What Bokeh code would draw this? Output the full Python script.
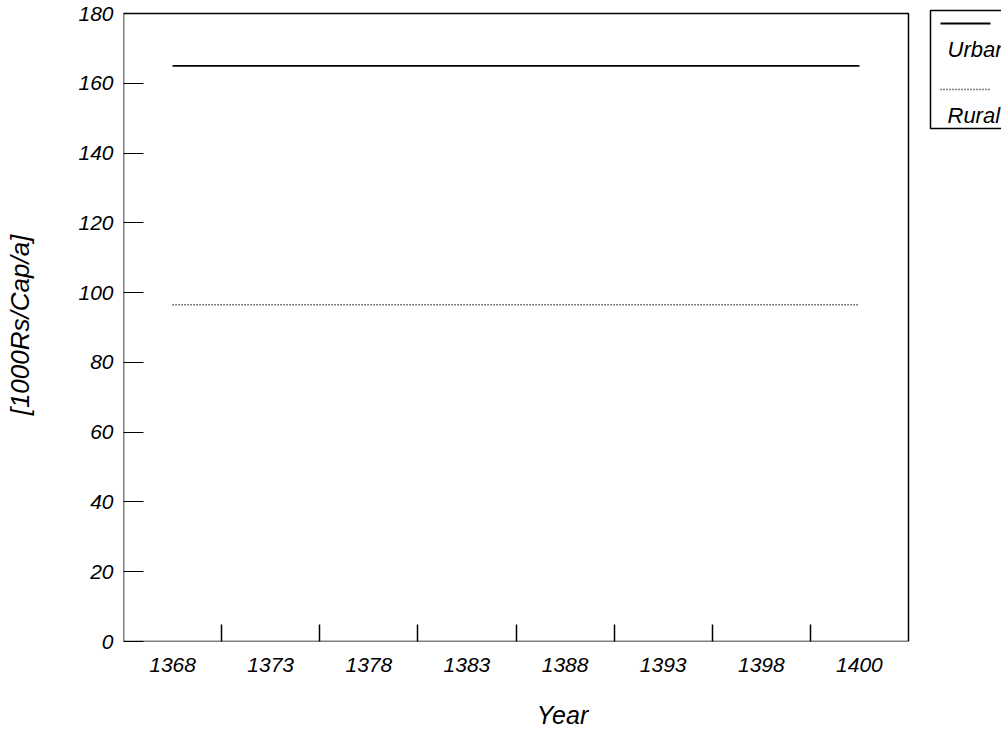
from bokeh.plotting import figure
from bokeh.models import Range1d, FixedTicker
from bokeh.core.properties import value
from bokeh.embed import file_html
from bokeh.resources import INLINE

# ---- data ----
years = ["1368", "1373", "1378", "1383", "1388", "1393", "1398", "1400"]
urban = [165, 165, 165, 165, 165, 165, 165, 165]
rural = [96.5, 96.5, 96.5, 96.5, 96.5, 96.5, 96.5, 96.5]
series_names = ["Urban", "Rural"]
series_dash = ["solid", "1 2"]
series_width = [1.8, 1.5]
y_ticks = [0, 20, 40, 60, 80, 100, 120, 140, 160, 180]
y_title = "[1000Rs/Cap/a]"
x_title = "Year"

FONT = "'Liberation Sans Narrow', 'Liberation Sans', Arial, sans-serif"

# ---- layout (page pixels; the bokeh page has no body margin) ----
W, H = 1001, 743
BOX_L, BOX_R, BOX_T, BOX_B = 123, 908, 13, 641      # visible plot box
FRAME_T = 8                                          # frame extended up/right for the legend

n = len(years)
centers = [i + 0.5 for i in range(n)]
bounds = [i for i in range(1, n)]
y0, y1 = y_ticks[0], y_ticks[-1]

def dx(px):
    return (px - BOX_L) / (BOX_R - BOX_L) * n

def dy(py):
    return y0 + (BOX_B - py) / (BOX_B - BOX_T) * (y1 - y0)

p = figure(width=W, height=H,
           x_range=Range1d(0, dx(W)), y_range=Range1d(y0, dy(FRAME_T)),
           output_backend="svg", toolbar_location=None,
           min_border_left=BOX_L, min_border_right=0,
           min_border_top=FRAME_T, min_border_bottom=H - BOX_B)
p.grid.visible = False
p.outline_line_color = None

# plot box
p.quad(left=[0], right=[n], bottom=[y0], top=[y1],
       fill_color=None, line_color="black", line_width=1.5)

renderers = []
for vals, dash, lw in zip([urban, rural], series_dash, series_width):
    renderers.append(p.line(centers, vals, line_color="black",
                            line_width=lw, line_dash=dash))

xa = p.xaxis[0]
xa.ticker = FixedTicker(ticks=centers, minor_ticks=bounds)
xa.major_label_overrides = {c: y for c, y in zip(centers, years)}
xa.major_tick_in = 0
xa.major_tick_out = 0
xa.minor_tick_in = 17
xa.minor_tick_out = 0
xa.minor_tick_line_color = "black"
xa.minor_tick_line_width = 1.5
xa.axis_line_color = None
xa.major_label_text_font = FONT
xa.major_label_text_font_style = "italic"
xa.major_label_text_font_size = "21px"
xa.major_label_text_color = "black"
xa.major_label_standoff = 16
xa.axis_label = x_title
xa.axis_label_text_font = FONT
xa.axis_label_text_font_style = "italic"
xa.axis_label_text_font_size = "25px"
xa.axis_label_text_color = "black"
xa.axis_label_standoff = 26

ya = p.yaxis[0]
ya.ticker = FixedTicker(ticks=y_ticks)
ya.major_tick_in = 20
ya.major_tick_out = 0
ya.major_tick_line_color = "black"
ya.major_tick_line_width = 1.2
ya.minor_tick_line_color = None
ya.axis_line_color = None
ya.major_label_text_font = FONT
ya.major_label_text_font_style = "italic"
ya.major_label_text_font_size = "21px"
ya.major_label_text_color = "black"
ya.major_label_standoff = 10
ya.axis_label = y_title
ya.axis_label_text_font = FONT
ya.axis_label_text_font_style = "italic"
ya.axis_label_text_font_size = "26px"
ya.axis_label_text_color = "black"
ya.axis_label_standoff = 40

# ---- legend: sample line above its label, box running off the right edge ----
p.quad(left=[dx(930)], right=[dx(W + 40)], top=[dy(10)], bottom=[dy(128)],
       fill_color="white", line_color="black", line_width=1.5)
sample_y = [23, 89]
label_y = [49, 115]
for sy, dash, lw in zip(sample_y, series_dash, series_width):
    p.line([dx(940), dx(990)], [dy(sy), dy(sy)], line_color="black",
           line_width=lw, line_dash=dash)
p.text(x=[dx(947)] * len(series_names), y=[dy(v) for v in label_y],
       text=series_names, text_baseline="middle", text_align="left",
       text_font=value(FONT), text_font_style="italic",
       text_font_size="22px", text_color="black")

open("out.html", "w").write(file_html(p, INLINE))
